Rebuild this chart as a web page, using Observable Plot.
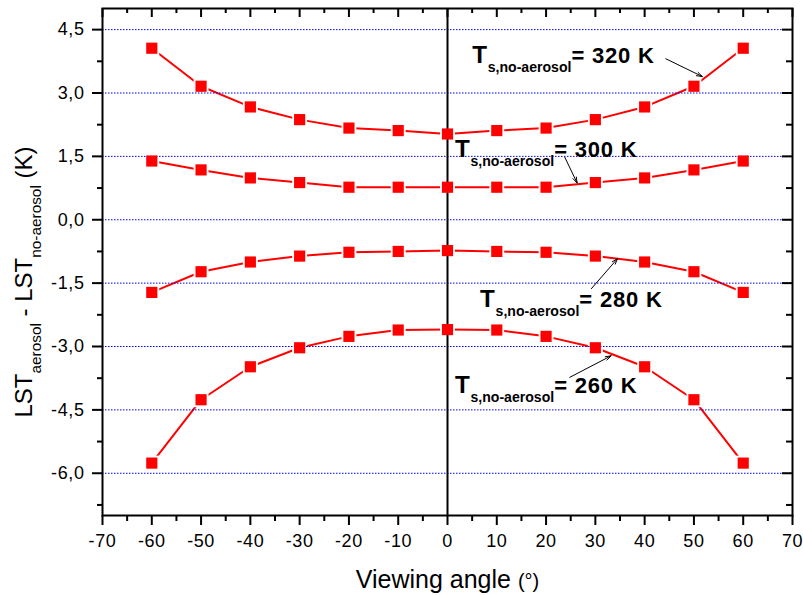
<!DOCTYPE html>
<html>
<head>
<meta charset="utf-8">
<script src="https://cdn.jsdelivr.net/npm/d3@7"></script>
<script src="https://cdn.jsdelivr.net/npm/@observablehq/plot@0.6"></script>
<style>
  body { margin: 0; background: #fff; }
  g[aria-label$="tick label"] { letter-spacing: 0.6px; }
</style>
</head>
<body>
<div id="chart"></div>
<script>
// ---- data ----
const angles = [-60, -50, -40, -30, -20, -10, 0, 10, 20, 30, 40, 50, 60];
const series320 = [4.06, 3.16, 2.67, 2.37, 2.17, 2.11, 2.03, 2.11, 2.17, 2.37, 2.67, 3.16, 4.06];
const series300 = [1.39, 1.18, 0.99, 0.88, 0.77, 0.77, 0.77, 0.77, 0.77, 0.88, 0.99, 1.18, 1.39];
const series280 = [-1.72, -1.23, -1.00, -0.86, -0.77, -0.75, -0.73, -0.75, -0.77, -0.86, -1.00, -1.23, -1.72];
const series260 = [-5.76, -4.26, -3.48, -3.03, -2.76, -2.61, -2.60, -2.61, -2.76, -3.03, -3.48, -4.26, -5.76];
const seriesNames = ["320 K", "300 K", "280 K", "260 K"];
const seriesValues = [series320, series300, series280, series260];

const xMajorTicks = [-70, -60, -50, -40, -30, -20, -10, 0, 10, 20, 30, 40, 50, 60, 70];
const xMinorTicks = [-65, -55, -45, -35, -25, -15, -5, 5, 15, 25, 35, 45, 55, 65];
const yMajorTicks = [-6, -4.5, -3, -1.5, 0, 1.5, 3, 4.5];
const yMinorTicks = [-6.75, -5.25, -3.75, -2.25, -0.75, 0.75, 2.25, 3.75];

// annotation labels (data coordinates of the start of "T", baseline)
const labelText = ["!{T}_{s,no-aerosol}= 320 K", "!{T}_{s,no-aerosol}= 300 K", "!{T}_{s,no-aerosol}= 280 K", "!{T}_{s,no-aerosol}= 260 K"];
const labelX = [5.0, 1.5, 6.6, 1.5];
const labelY = [3.70, 1.48, -2.07, -4.11];
// annotation arrows
const arrowX1 = [44.3, 23.8, 29.2, 24.8];
const arrowY1 = [3.81, 1.48, -1.63, -3.73];
const arrowX2 = [51.7, 26.3, 34.5, 33.2];
const arrowY2 = [3.39, 0.87, -0.92, -3.22];

const yAxisLabel = "LST_{aerosol} - LST_{no-aerosol} (K)";
const xAxisLabel = "Viewing angle ~{(°)}";

// ---- tables built from the arrays ----
const rows = seriesNames.flatMap((name, k) =>
  angles.map((a, i) => ({angle: a, value: seriesValues[k][i], series: name})));
const labels = labelText.map((t, i) => ({text: t, x: labelX[i], y: labelY[i]}));
const arrows = arrowX1.map((x1, i) => ({x1, y1: arrowY1[i], x2: arrowX2[i], y2: arrowY2[i]}));

const W = 803, H = 595, mL = 102, mR = 11, mT = 8, mB = 80;
const innerW = W - mL - mR, innerH = H - mT - mB;
const red = "#ff0000";

const plot = Plot.plot({
  width: W, height: H,
  marginLeft: mL, marginRight: mR, marginTop: mT, marginBottom: mB,
  style: {fontFamily: "'Liberation Sans', Arial, Helvetica, sans-serif", background: "white", color: "black", overflow: "visible"},
  x: {domain: [-70, 70]},
  y: {domain: [-7, 5]},
  marks: [
    Plot.line(rows, {x: "angle", y: "value", z: "series", stroke: red, strokeWidth: 2}),
    Plot.dot(rows, {x: "angle", y: "value", symbol: "square", r: 8.4, fill: "white"}),
    Plot.ruleY(yMajorTicks, {stroke: "#0000ff", strokeWidth: 1, strokeDasharray: "1.5,1.5"}),
    Plot.ruleX([0], {stroke: "black", strokeWidth: 2}),
    Plot.dot(rows, {x: "angle", y: "value", symbol: "square", r: 6.3, fill: red}),
    Plot.arrow(arrows, {x1: "x1", y1: "y1", x2: "x2", y2: "y2", stroke: "black", strokeWidth: 1, headLength: 9, headAngle: 36}),
    Plot.text(labels, {x: "x", y: "y", text: "text", textAnchor: "start", lineAnchor: "bottom", fontWeight: "bold", fontSize: 22, fill: "black"}),
    // inward ticks on the top and right edges
    Plot.ruleX(xMajorTicks, {insetBottom: innerH - 9, stroke: "black", strokeWidth: 2}),
    Plot.ruleX(xMinorTicks, {insetBottom: innerH - 5, stroke: "black", strokeWidth: 2}),
    Plot.ruleY(yMajorTicks, {insetLeft: innerW - 10, stroke: "black", strokeWidth: 2}),
    Plot.ruleY(yMinorTicks, {insetLeft: innerW - 6, stroke: "black", strokeWidth: 2}),
    Plot.frame({stroke: "black", strokeWidth: 2}),
    // outward ticks + labels on left and bottom
    Plot.axisX({ticks: xMajorTicks, tickSize: 10, tickPadding: 9, tickFormat: d => String(d), fontSize: 18, strokeWidth: 2, label: null}),
    Plot.axisX({ticks: xMinorTicks, tickSize: 6, tickFormat: () => "", strokeWidth: 2, label: null}),
    Plot.axisY({ticks: yMajorTicks, tickSize: 10, tickPadding: 8, tickFormat: d => d.toFixed(1).replace(".", ","), fontSize: 18, strokeWidth: 2, label: null}),
    Plot.axisY({ticks: yMinorTicks, tickSize: 5, tickFormat: () => "", strokeWidth: 2, label: null}),
    // axis titles
    Plot.text([yAxisLabel], {text: d => d, frameAnchor: "left", rotate: -90, dx: -78, dy: 20, fontSize: 24, textAnchor: "middle", lineAnchor: "middle", fill: "black"}),
    Plot.text([xAxisLabel], {text: d => d, frameAnchor: "bottom", dy: 72, fontSize: 25, textAnchor: "middle", lineAnchor: "bottom", fill: "black"})
  ]
});

document.getElementById("chart").appendChild(plot);

// turn the small markup (_{sub}, !{big}, ~{small}) into real tspans
function richify(root) {
  d3.select(root).selectAll("text").each(function () {
    const src = this.textContent;
    if (!/[_!~]\{/.test(src)) return;
    const base = parseFloat(getComputedStyle(this).fontSize) || 16;
    const bold = getComputedStyle(this).fontWeight;
    const isBold = bold === "bold" || +bold >= 600;
    const parts = [];
    const re = /([_!~])\{([^}]*)\}|([^_!~]+)/g;
    let m;
    while ((m = re.exec(src))) {
      if (m[1]) parts.push({kind: m[1], text: m[2]});
      else parts.push({kind: "", text: m[3]});
    }
    this.textContent = "";
    let shift = 0;
    for (const p of parts) {
      const ts = d3.select(this).append("tspan").text(p.text);
      let size = base, off = 0, ls = isBold ? 0.8 : 0;
      if (p.kind === "_") { size = base * 0.64; off = base * 0.38; ls = 0; }
      else if (p.kind === "!") { size = base * 1.1; }
      else if (p.kind === "~") { size = base * 0.8; }
      ts.attr("font-size", size.toFixed(2)).attr("letter-spacing", ls);
      if (off !== shift) { ts.attr("dy", (off - shift).toFixed(2)); shift = off; }
    }
    this.setAttribute("xml:space", "preserve");
    this.style.whiteSpace = "pre";
  });
}
richify(plot);
</script>
</body>
</html>
